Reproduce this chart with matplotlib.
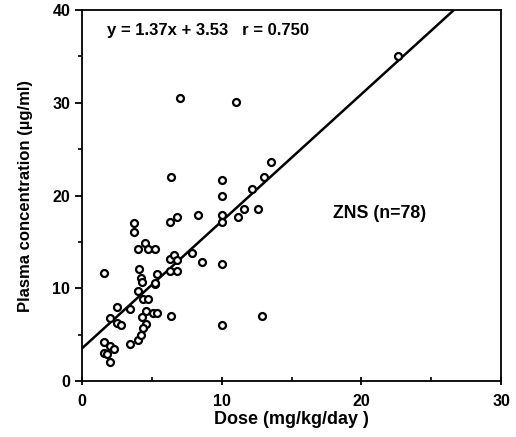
import matplotlib
matplotlib.use("Agg")
import matplotlib.pyplot as plt
from matplotlib.ticker import MultipleLocator

# Datos (dosis vs concentracion plasmatica)
dose = [1.6, 1.6, 1.6, 1.8, 2.0, 2.0, 2.3, 2.0, 2.5, 2.5, 2.8, 3.4, 3.4,
        3.7, 3.7, 4.0, 4.0, 4.5, 4.7, 5.2, 4.1, 4.2, 4.3, 4.0, 4.4, 4.7,
        4.6, 4.3, 5.1, 5.4, 4.6, 4.4, 4.2, 5.2, 5.4, 5.2,
        6.3, 6.8, 6.3, 6.6, 6.8, 6.3, 6.8, 6.4, 6.4, 7.0, 7.9, 8.6, 8.3,
        10.0, 10.0, 10.0, 10.0, 10.0, 10.0, 11.0, 11.2, 11.6, 12.2, 12.6,
        12.9, 13.0, 13.5, 22.6]
conc = [11.7, 4.2, 3.0, 2.9, 3.8, 2.1, 3.5, 6.8, 8.0, 6.3, 6.0, 7.8, 4.0,
        17.0, 16.1, 14.2, 4.4, 14.9, 14.2, 14.2, 12.1, 11.1, 10.7, 9.7, 8.8, 8.8,
        7.5, 6.9, 7.3, 7.3, 6.1, 5.7, 5.0, 10.5, 11.5, 10.6,
        17.2, 17.7, 13.2, 13.6, 13.0, 11.9, 11.9, 7.0, 22.0, 30.5, 13.8, 12.8, 17.9,
        17.9, 17.2, 12.6, 21.7, 19.9, 6.0, 30.1, 17.7, 18.6, 20.7, 18.6,
        7.0, 22.0, 23.6, 35.0]

# Recta de regresion
slope = 1.37
intercept = 3.53

plt.rcParams['font.family'] = ['Liberation Sans', 'DejaVu Sans']
plt.rcParams['font.weight'] = 'bold'

fig = plt.figure(figsize=(5.16, 4.37), dpi=100)
ax = fig.add_axes([0.159, 0.128, 0.812, 0.849])

ax.plot(dose, conc, 'o', mfc='white', mec='black', ms=5, mew=1.6, zorder=3)
xs = [0, 30]
ax.plot(xs, [slope * x + intercept for x in xs], color='black', lw=1.8, zorder=2)

ax.set_xlim(0, 30)
ax.set_ylim(0, 40)
ax.xaxis.set_major_locator(MultipleLocator(10))
ax.xaxis.set_minor_locator(MultipleLocator(5))
ax.yaxis.set_major_locator(MultipleLocator(10))
ax.yaxis.set_minor_locator(MultipleLocator(5))
ax.tick_params(axis='x', which='major', direction='inout', length=6, width=1.3, labelsize=11.5, pad=6)
ax.tick_params(axis='x', which='minor', direction='in', length=3, width=1.2)
ax.tick_params(axis='y', which='major', direction='out', length=5, width=1.3, labelsize=11.5)
ax.tick_params(axis='y', which='minor', direction='out', length=3, width=1.2)
for lab in ax.get_xticklabels() + ax.get_yticklabels():
    lab.set_fontweight('bold')
for sp in ax.spines.values():
    sp.set_linewidth(1.3)

ax.set_xlabel('Dose (mg/kg/day )', fontsize=13, fontweight='bold', labelpad=2)
ax.set_ylabel('Plasma concentration (\u00b5g/ml)', fontsize=12, fontweight='bold', labelpad=14)

ax.text(1.8, 37.8, 'y = 1.37x + 3.53   r = 0.750', fontsize=12, fontweight='bold', va='center')
ax.text(18.0, 18.1, 'ZNS (n=78)', fontsize=12.8, fontweight='bold', va='center')

plt.savefig('out.png', dpi=100)
